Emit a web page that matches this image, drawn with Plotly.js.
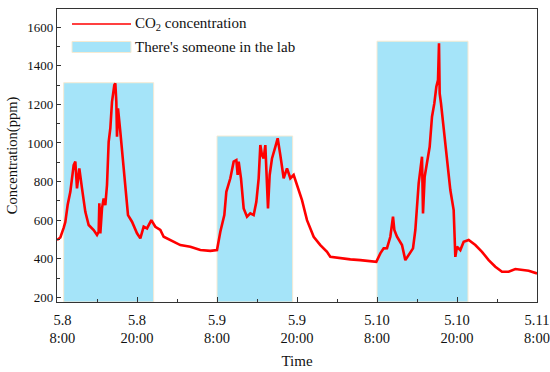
<!DOCTYPE html>
<html>
<head>
<meta charset="utf-8">
<script src="https://cdn.plot.ly/plotly-3.0.1.min.js"></script>
<style>html,body{margin:0;padding:0;background:#fff;}#chart{width:550px;height:372px;}</style>
</head>
<body>
<div id="chart"></div>
<script>
// Time in hours since 5.8 8:00
var hours = [0,0.5,1.0,1.25,1.6,2.0,2.5,2.75,3.0,3.35,3.75,4.25,4.75,5.5,6.0,6.25,6.35,6.5,6.75,7.0,7.25,7.5,7.75,8.0,8.25,8.6,8.75,8.9,9.0,9.15,9.5,9.75,10.0,10.25,10.65,11.25,12.0,12.5,13.0,13.5,14.15,14.75,15.5,16.0,17.0,18.5,20.0,21.5,23.0,24.0,24.5,25.1,25.4,26.0,26.5,26.9,27.1,27.25,27.6,28.0,28.5,29.0,29.5,29.9,30.25,30.5,30.75,31.0,31.25,31.5,31.65,31.9,32.25,32.75,33.1,33.5,34.0,34.5,35.0,35.5,36.0,36.5,36.75,37.5,38.5,39.5,40.5,41.0,42.5,44.0,45.5,47.0,47.9,48.5,49.0,49.5,50.0,50.4,50.6,51.0,51.75,52.25,52.75,53.4,53.75,54.25,54.75,54.9,55.15,55.5,55.9,56.25,56.6,56.9,57.15,57.3,57.4,57.6,58.0,58.5,59.0,59.5,59.75,60.0,60.5,61.0,61.75,62.75,63.75,64.75,65.75,66.75,67.75,68.75,69.75,70.75,72.0];
var co2 = [497,510,560,590,680,747,885,903,765,868,765,643,575,549,523,540,687,532,661,713,678,782,1006,1076,1213,1300,1309,1213,1032,1179,1058,954,851,747,626,592,532,506,566,557,600,566,549,514,497,471,462,445,441,445,540,626,747,817,903,911,834,903,817,661,618,635,626,695,817,989,937,920,989,765,661,834,920,980,1024,937,817,868,817,834,782,721,704,600,514,471,436,410,402,397,393,388,384,428,454,455,514,618,549,514,471,393,419,454,549,791,929,635,825,894,980,1136,1205,1291,1326,1516,1257,1205,1067,894,756,652,410,462,445,488,497,471,436,393,359,333,333,347,341,338,324];

// Occupied periods (hours since 5.8 8:00) and box heights (ppm)
var occStart = [1.0, 24.0, 48.0];
var occEnd = [14.5, 35.35, 61.65];
var occTop = [1312, 1036, 1527];

var tickHours = [0,12,24,36,48,60,72];
var tickLabels = ['\u00a0\u00a0\u00a05.8<br>\u00a0\u00a0\u00a08:00','5.8<br>20:00','5.9<br>8:00','5.9<br>20:00','5.10<br>8:00','5.10<br>20:00','5.11<br>8:00'];

var yMin = 176, yMax = 1694;

var serif = 'Liberation Serif, Times New Roman, serif';

var occTrace = {
  type: 'bar',
  x: occStart.map(function(s,i){return (s+occEnd[i])/2;}),
  width: occStart.map(function(s,i){return occEnd[i]-s;}),
  base: occStart.map(function(){return yMin;}),
  y: occTop.map(function(t){return t-yMin;}),
  marker: {color: '#a5e4f9', line: {color: '#f6ead2', width: 1}},
  showlegend: false,
  hoverinfo: 'skip'
};
var lineTrace = {
  type: 'scatter', mode: 'lines',
  x: hours, y: co2,
  line: {color: '#ff0000', width: 2.6},
  showlegend: false
};

var layout = {
  width: 550, height: 372,
  margin: {l: 57, r: 13, t: 9, b: 70},
  paper_bgcolor: '#fff', plot_bgcolor: '#fff',
  barmode: 'overlay', bargap: 0,
  font: {family: serif, color: '#111'},
  xaxis: {
    range: [0, 72], tickmode: 'array', tickvals: tickHours, ticktext: tickLabels,
    ticks: 'inside', ticklen: 5, tickcolor: '#333', tickwidth: 1,
    ticklabelstandoff: 4,
    minor: {tickmode: 'linear', tick0: 0, dtick: 6, ticks: 'inside', ticklen: 3, tickcolor: '#333'},
    showline: true, mirror: true, linecolor: '#333', linewidth: 1.2,
    showgrid: false, zeroline: false,
    tickfont: {family: serif, size: 14.5, color: '#111'},
    title: {text: 'Time', font: {family: serif, size: 15, color: '#111'}, standoff: 10}
  },
  yaxis: {
    range: [yMin, yMax], tick0: 0, dtick: 200,
    ticks: 'inside', ticklen: 4, tickcolor: '#333', tickwidth: 1,
    minor: {tick0: 0, dtick: 100, ticks: 'inside', ticklen: 2.5, tickcolor: '#333'},
    showline: true, mirror: true, linecolor: '#333', linewidth: 1.2,
    showgrid: false, zeroline: false,
    tickfont: {family: serif, size: 13, color: '#111'},
    title: {text: 'Concentration(ppm)', font: {family: serif, size: 14.5, color: '#111'}, standoff: 6}
  },
  shapes: [
    {type: 'line', xref: 'paper', yref: 'paper', x0: (72-57)/480, x1: (131-57)/480, y0: (302-24)/293, y1: (302-24)/293, line: {color: '#ff0000', width: 1.5}},
    {type: 'rect', xref: 'paper', yref: 'paper', x0: (72-57)/480, x1: (131-57)/480, y0: (302-52.5)/293, y1: (302-41.5)/293, fillcolor: '#a5e4f9', line: {color: '#f6ead2', width: 1}}
  ],
  annotations: [
    {xref: 'paper', yref: 'paper', x: (133-57)/480, y: (302-24)/293, xanchor: 'left', yanchor: 'middle', showarrow: false, text: 'CO<sub>2</sub> concentration', font: {family: serif, size: 15, color: '#111'}},
    {xref: 'paper', yref: 'paper', x: (133-57)/480, y: (302-47)/293, xanchor: 'left', yanchor: 'middle', showarrow: false, text: "There's someone in the lab", font: {family: serif, size: 15, color: '#111'}}
  ]
};

Plotly.newPlot('chart', [occTrace, lineTrace], layout, {displayModeBar: false, staticPlot: true});
</script>
</body>
</html>
